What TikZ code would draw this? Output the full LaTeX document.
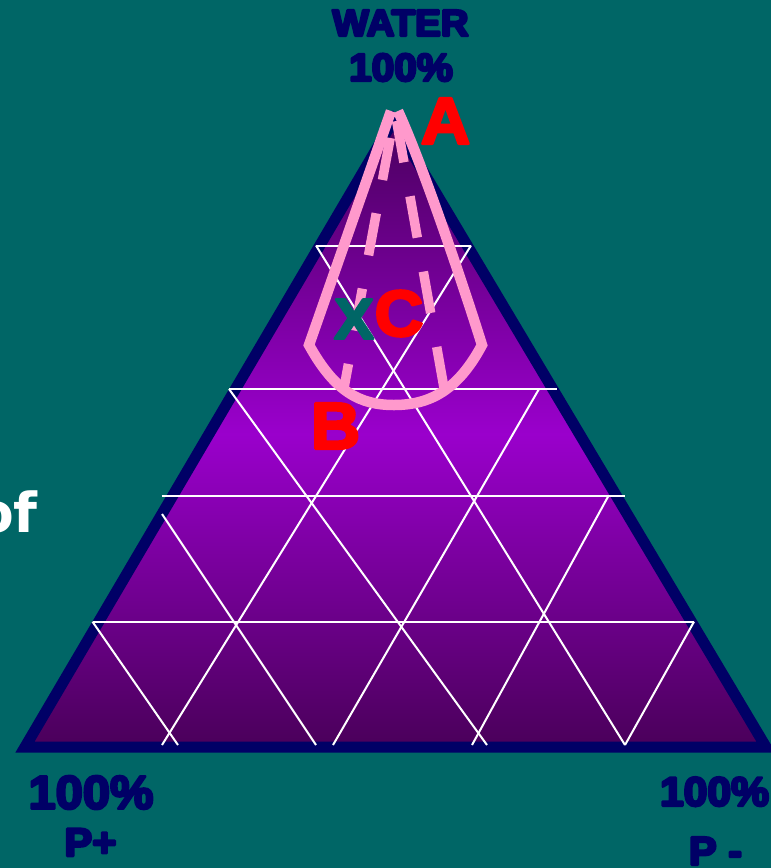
\documentclass[tikz,border=0pt]{standalone}
\usepackage{fontspec}
\setmainfont{Liberation Sans}
\newfontfamily\heavy[FakeStretch=1.04]{Liberation Sans Bold}
\newfontfamily\dvsb{DejaVu Sans Bold}
\definecolor{bgteal}{RGB}{0,102,102}
\definecolor{navyc}{RGB}{0,0,102}
\definecolor{pinkc}{RGB}{255,153,204}
\definecolor{ptop}{RGB}{74,0,94}
\definecolor{pmid}{RGB}{154,0,204}
\definecolor{pbot}{RGB}{74,0,90}
\definecolor{redc}{RGB}{255,0,0}
\definecolor{xteal}{RGB}{0,102,102}
\begin{document}
\begin{tikzpicture}[x=1pt,y=-1pt,
  gridline/.style={white,line width=2pt},
  border/.style={navyc,line width=11pt,line join=miter},
  pinkloop/.style={pinkc,line width=10.5pt},
  pinkdash/.style={pinkc,line width=9.5pt},
  heavytext/.style={inner sep=0pt,
    execute at begin node={\special{pdf:literal direct 2.6 w 1 j 2 Tr}},
    execute at end node={\special{pdf:literal direct 0 Tr}}},
  navytext/.style={heavytext,navyc},
  redtext/.style={heavytext,redc}]
\fill[bgteal] (0,0) rectangle (771,868);
\useasboundingbox (0,0) rectangle (771,868);
% triangle
\coordinate (top) at (393,121);
\coordinate (bl) at (25,747);
\coordinate (br) at (766,747);
\shade[top color=ptop,bottom color=pbot,middle color=pmid] (top) -- (bl) -- (br) -- cycle;
\draw[border] (top) -- (bl) -- (br) -- cycle;
% grid
\coordinate (h1l) at (316,245.5); \coordinate (h1r) at (471,245.5);
\coordinate (h2l) at (229,389);   \coordinate (h2r) at (557,389);
\coordinate (h3l) at (161.5,495.7); \coordinate (h3r) at (625,495.7);
\coordinate (h4l) at (92.5,621.7); \coordinate (h4r) at (694,621.7);
\draw[gridline] (h1l) -- (h1r);
\draw[gridline] (h2l) -- (h2r);
\draw[gridline] (h3l) -- (h3r);
\draw[gridline] (h4l) -- (h4r);
\draw[gridline] (h1l) -- (625,745);
\draw[gridline] (h1r) -- (162,745);
\draw[gridline] (h2l) -- (487,745);
\draw[gridline] (539,389) -- (333,745);
\draw[gridline] (608,496.7) -- (472,745);
\draw[gridline] (h4r) -- (625,745);
\draw[gridline] (h4l) -- (178,745);
\draw[gridline] (162,514) -- (316,745);
% pink loops
\draw[pinkdash,dash pattern=on 42.7pt off 33.9pt,dash phase=50.2pt] (395,112) -- (344,388);
\draw[pinkdash,dash pattern=on 42pt off 34.5pt,dash phase=67.4pt] (395,112) -- (444,388);
\draw[pinkloop] (391,111) -- (309,345) .. controls (335,392) and (360,405) .. (394,405)
  .. controls (430,405) and (458,390) .. (482,345) .. controls (468,300) and (425,170) .. (398,111);
% labels
\node[navytext,font=\heavy\fontsize{37}{37}\selectfont] (water) at (400.5,23) {WATER};
\node[navytext,font=\heavy\fontsize{39}{39}\selectfont] (wpct) at (401,67.5) {100\%};
\node[redtext,font=\heavy\fontsize{66}{66}\selectfont] (a) at (445.5,121) {A};
\node[heavytext,xteal,font=\heavy\fontsize{57}{57}\selectfont] (x) at (354,319) {X};
\node[redtext,font=\heavy\fontsize{65}{65}\selectfont] (c) at (399,313.5) {C};
\node[redtext,font=\heavy\fontsize{66}{66}\selectfont] (b) at (335.5,426) {B};
\node[navytext,font=\heavy\fontsize{47}{47}\selectfont] (lpct) at (91,792.5) {100\%};
\node[navytext,font=\heavy\fontsize{40}{40}\selectfont] (lp) at (90.5,842.4) {P+};
\node[navytext,font=\heavy\fontsize{41}{41}\selectfont] (rpct) at (714.5,791.7) {100\%};
\node[navytext,font=\heavy\fontsize{40}{40}\selectfont] (rp) at (715.5,851) {P -};
\node[white,inner sep=0pt,anchor=base east,font=\dvsb\fontsize{55}{55}\selectfont] (of) at (38,532) {of};
\end{tikzpicture}
\end{document}
